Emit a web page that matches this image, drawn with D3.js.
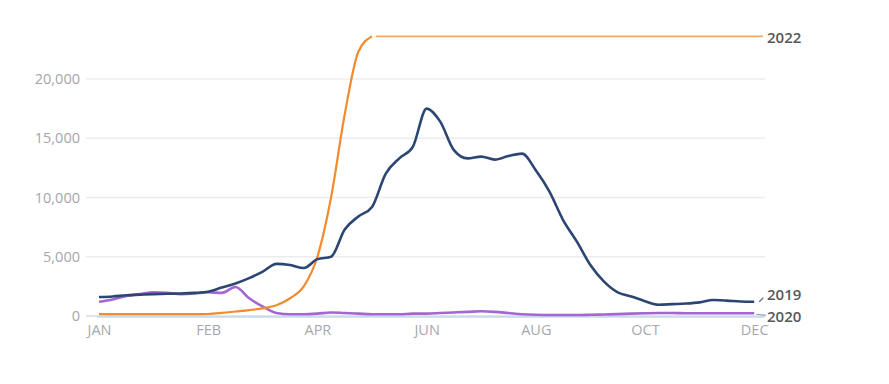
<!DOCTYPE html>
<html>
<head>
<meta charset="utf-8">
<script src="https://cdn.jsdelivr.net/npm/d3@7/dist/d3.min.js"></script>
<style>
  html, body { margin: 0; padding: 0; background: #fff; }
  svg { display: block; }
</style>
</head>
<body>
<svg id="chart" width="889" height="384"></svg>
<script>
// ---- data ----
const monthLabels = ["JAN", "FEB", "APR", "JUN", "AUG", "OCT", "DEC"];
const yTicks = [0, 5000, 10000, 15000, 20000];
const stepsPerLabel = 8; // samples between two labelled ticks

const series2019 = [1600, 1650, 1750, 1800, 1850, 1880, 1900, 1950, 2050, 2400,
  2750, 3200, 3750, 4400, 4300, 4050, 4800, 5000, 7300, 8400,
  9200, 12000, 13300, 14300, 17500, 16400, 14000, 13300, 13450, 13200,
  13500, 13700, 12300, 10500, 8100, 6300, 4300, 2900, 2000, 1650,
  1250, 950, 1000, 1050, 1150, 1350, 1300, 1220, 1200];

const series2020 = [1200, 1400, 1700, 1850, 2000, 1950, 1850, 1900, 2000, 1950,
  2450, 1500, 800, 250, 150, 150, 200, 300, 250, 200,
  150, 150, 150, 200, 200, 250, 300, 350, 400, 350,
  250, 150, 100, 80, 80, 80, 100, 130, 160, 200,
  230, 250, 250, 230, 230, 230, 230, 230, 230];

const series2022 = [150, 150, 150, 150, 150, 150, 150, 150, 170, 260,
  380, 500, 650, 900, 1500, 2500, 5000, 10000, 17000, 22300, 23600];

const seriesNames = ["2019", "2020", "2022"];

// ---- chart ----
const svg = d3.select("#chart");
const x = d3.scaleLinear().domain([0, monthLabels.length - 1]).range([99, 754.2]);
const y = d3.scaleLinear().domain([0, 20000]).range([316, 79]);
const gridX0 = 86, gridX1 = 765;

const font = "'Open Sans', 'Noto Sans', sans-serif";

// gridlines
svg.append("g").selectAll("line").data(yTicks).join("line")
  .attr("x1", gridX0).attr("x2", gridX1)
  .attr("y1", d => y(d)).attr("y2", d => y(d))
  .attr("stroke", d => d === 0 ? "#d6dce3" : "#ececee")
  .attr("stroke-width", 1.5);

// light blue baseline
svg.append("line")
  .attr("x1", 97).attr("x2", gridX1)
  .attr("y1", y(0) + 1).attr("y2", y(0) + 1)
  .attr("stroke", "#c4d8e8").attr("stroke-width", 1.5);

// y axis
const yAxis = d3.axisLeft(y).tickValues(yTicks).tickSize(0).tickPadding(0)
  .tickFormat(d3.format(","));
const gy = svg.append("g").attr("transform", `translate(80,0)`).call(yAxis);
gy.select(".domain").remove();
gy.selectAll("text").attr("fill", "#a3a7ad").style("font-family", font)
  .style("font-size", "14.5px").attr("dx", 0);

// x axis
const xAxis = d3.axisBottom(x).tickValues(d3.range(monthLabels.length))
  .tickSize(0).tickPadding(0).tickFormat(i => monthLabels[i]);
const gx = svg.append("g").attr("transform", `translate(0,325)`).call(xAxis);
gx.select(".domain").remove();
gx.selectAll("text").attr("fill", "#a3a9b0").style("font-family", font)
  .style("font-size", "14.5px");

// lines
const toPts = arr => arr.map((v, i) => [i / stepsPerLabel, v]);
const line = d3.line().x(d => x(d[0])).y(d => y(d[1])).curve(d3.curveMonotoneX);

svg.append("path").datum(toPts(series2020))
  .attr("d", line).attr("fill", "none")
  .attr("stroke", "#a466d2").attr("stroke-width", 2.6).attr("stroke-linejoin", "round");

svg.append("path").datum(toPts(series2022))
  .attr("d", line).attr("fill", "none")
  .attr("stroke", "#f28a2e").attr("stroke-width", 2.2).attr("stroke-linejoin", "round");

svg.append("path").datum(toPts(series2019))
  .attr("d", line).attr("fill", "none")
  .attr("stroke", "#2c4673").attr("stroke-width", 2.6).attr("stroke-linejoin", "round");

// 2022 leader line (value above chart kept flat to label)
const last2022 = series2022[series2022.length - 1];
const lastX2022 = (series2022.length - 1) / stepsPerLabel;
svg.append("line")
  .attr("x1", x(lastX2022) + 4).attr("x2", 763)
  .attr("y1", y(last2022)).attr("y2", y(last2022))
  .attr("stroke", "#f6a860").attr("stroke-width", 1.6);

// 2019 / 2020 leaders
const endX = x(monthLabels.length - 1);
const last2019 = series2019[series2019.length - 1];
const last2020 = series2020[series2020.length - 1];
svg.append("line")
  .attr("x1", endX + 5).attr("x2", endX + 9)
  .attr("y1", y(last2019)).attr("y2", y(last2019) - 4)
  .attr("stroke", "#6b7280").attr("stroke-width", 1.3);
svg.append("line")
  .attr("x1", endX + 2).attr("x2", endX + 12)
  .attr("y1", y(last2020) + 1).attr("y2", y(last2020) + 2)
  .attr("stroke", "#9aa0a8").attr("stroke-width", 1.2);

// series labels
const labelData = [
  { name: seriesNames[2], yy: y(last2022) + 3 },
  { name: seriesNames[0], yy: y(last2019) - 6 },
  { name: seriesNames[1], yy: y(last2020) + 5 }
];
svg.append("g").selectAll("text").data(labelData).join("text")
  .attr("x", 767).attr("y", d => d.yy)
  .attr("dominant-baseline", "middle")
  .attr("fill", "#55585c")
  .style("font-family", font).style("font-size", "15px").style("font-weight", 600)
  .text(d => d.name);
</script>
</body>
</html>
